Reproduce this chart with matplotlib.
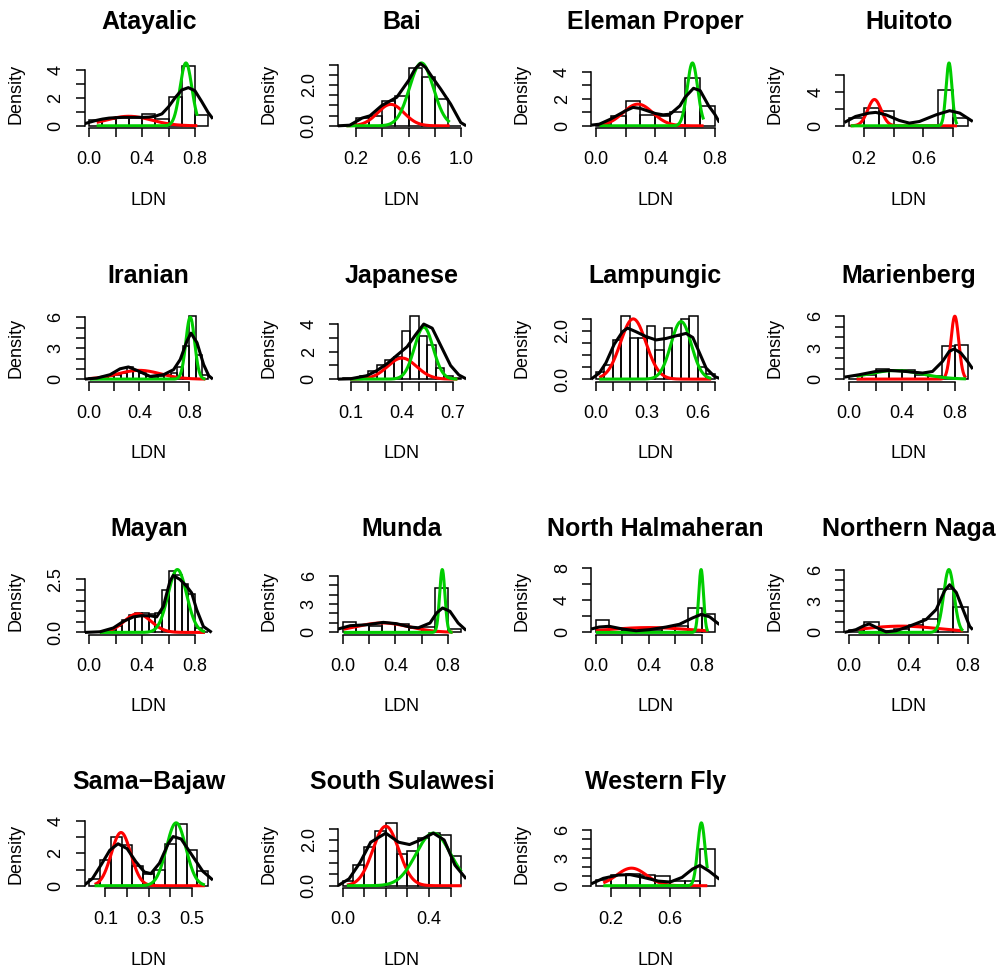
import numpy as np
import matplotlib
matplotlib.use("Agg")
import matplotlib.pyplot as plt
from matplotlib.transforms import Bbox

# ---------------- data ----------------
titles = ["Atayalic", "Bai", "Eleman Proper", "Huitoto",
          "Iranian", "Japanese", "Lampungic", "Marienberg",
          "Mayan", "Munda", "North Halmaheran", "Northern Naga",
          "Sama\u2212Bajaw", "South Sulawesi", "Western Fly"]

# histogram: first break, bin width, bar densities
bin_start = [0.0, 0.1, 0.0, 0.1, 0.0, 0.05, 0.0, 0.0, 0.0, 0.0, 0.0, 0.0, 0.025, 0.0, 0.1]
bin_width = [0.1, 0.1, 0.1, 0.1, 0.05, 0.05, 0.05, 0.1, 0.05, 0.1, 0.1, 0.1, 0.05, 0.05, 0.1]
bar_density = [
    [0.43, 0.5, 0.6, 0.6, 0.87, 0.5, 2.07, 4.29, 0.75],
    [0.0, 0.36, 0.5, 1.24, 1.48, 2.85, 2.39, 1.32, 0.0],
    [0.08, 0.74, 1.85, 0.8, 0.7, 1.0, 3.53, 1.43],
    [0.9, 2.1, 1.78, 0.0, 0.0, 0.0, 4.27, 0.9],
    [0.1, 0.1, 0.2, 0.3, 0.4, 0.6, 1.2, 0.8, 0.6, 0.3, 0.2, 0.3, 0.4, 0.6, 1.2, 3.2, 6.1, 2.3, 0.4],
    [0.05, 0.1, 0.2, 0.6, 1.0, 1.4, 1.6, 3.5, 4.57, 3.1, 2.5, 0.8, 0.2, 0.05],
    [0.3, 0.6, 1.6, 2.6, 1.7, 1.7, 2.2, 1.2, 2.1, 1.8, 2.5, 2.6, 0.5, 0.2],
    [0.25, 0.35, 1.0, 0.9, 0.9, 0.4, 0.3, 3.2, 3.3],
    [0.0, 0.0, 0.0, 0.1, 0.3, 0.6, 0.8, 0.9, 0.9, 0.85, 0.9, 2.0, 2.9, 2.7, 2.3, 1.8, 0.2, 0.0],
    [1.06, 0.75, 0.7, 1.0, 0.9, 0.5, 0.6, 4.7, 0.4],
    [1.6, 0.5, 0.3, 0.2, 0.3, 0.6, 0.8, 3.07, 2.3],
    [0.2, 1.03, 0.1, 0.3, 0.7, 1.3, 4.19, 2.42],
    [0.4, 1.6, 3.0, 2.5, 1.2, 0.7, 1.0, 2.6, 3.8, 2.2, 0.9],
    [0.2, 0.9, 1.7, 2.4, 2.75, 1.4, 1.5, 2.1, 2.3, 2.2, 1.3],
    [0.6, 1.2, 1.3, 1.2, 1.0, 0.5, 0.5, 4.0],
]

# kernel density (black)
dens_x = [
    [-0.036, 0.0, 0.05, 0.1, 0.15, 0.2, 0.25, 0.3, 0.35, 0.4, 0.45, 0.5, 0.55, 0.6, 0.65, 0.7, 0.75, 0.8, 0.85, 0.9, 0.936],
    [0.064, 0.154, 0.248, 0.307, 0.396, 0.511, 0.6, 0.65, 0.689, 0.73, 0.778, 0.842, 0.918, 0.995, 1.036],
    [-0.032, 0.023, 0.1, 0.2, 0.25, 0.3, 0.4, 0.453, 0.5, 0.566, 0.6, 0.657, 0.702, 0.759, 0.8, 0.832],
    [0.068, 0.143, 0.234, 0.279, 0.347, 0.437, 0.505, 0.573, 0.686, 0.776, 0.844, 0.932],
    [-0.038, 0.06, 0.166, 0.246, 0.313, 0.38, 0.487, 0.594, 0.674, 0.727, 0.781, 0.813, 0.861, 0.914, 0.955, 0.988],
    [0.022, 0.094, 0.193, 0.252, 0.311, 0.37, 0.43, 0.479, 0.528, 0.578, 0.627, 0.686, 0.735, 0.778],
    [-0.028, 0.02, 0.059, 0.108, 0.157, 0.187, 0.236, 0.295, 0.354, 0.413, 0.472, 0.531, 0.571, 0.61, 0.649, 0.698, 0.728],
    [-0.036, 0.076, 0.202, 0.303, 0.429, 0.556, 0.631, 0.707, 0.758, 0.795, 0.846, 0.896, 0.936],
    [-0.036, 0.081, 0.182, 0.258, 0.333, 0.396, 0.46, 0.51, 0.561, 0.611, 0.636, 0.687, 0.737, 0.775, 0.813, 0.864, 0.927],
    [-0.036, 0.058, 0.184, 0.309, 0.41, 0.511, 0.574, 0.662, 0.712, 0.757, 0.813, 0.875, 0.936],
    [-0.036, 0.025, 0.101, 0.203, 0.304, 0.405, 0.532, 0.633, 0.734, 0.797, 0.861, 0.936],
    [-0.032, 0.045, 0.101, 0.135, 0.191, 0.248, 0.315, 0.383, 0.45, 0.518, 0.586, 0.642, 0.676, 0.721, 0.766, 0.811, 0.832],
    [0.003, 0.04, 0.08, 0.12, 0.158, 0.2, 0.24, 0.28, 0.31, 0.35, 0.39, 0.413, 0.45, 0.5, 0.55, 0.597],
    [-0.022, 0.03, 0.08, 0.13, 0.2, 0.26, 0.31, 0.36, 0.42, 0.47, 0.52, 0.572],
    [0.068, 0.15, 0.25, 0.33, 0.42, 0.52, 0.6, 0.68, 0.75, 0.8, 0.86, 0.932],
]
dens_y = [
    [0.15, 0.25, 0.38, 0.48, 0.55, 0.58, 0.6, 0.6, 0.6, 0.6, 0.62, 0.68, 0.85, 1.35, 2.0, 2.55, 2.72, 2.5, 1.75, 0.95, 0.5],
    [0.0, 0.03, 0.38, 0.49, 0.99, 1.4, 2.22, 2.8, 3.05, 2.85, 2.39, 1.81, 1.07, 0.16, 0.0],
    [0.05, 0.12, 0.5, 1.11, 1.36, 1.28, 0.91, 0.81, 0.86, 1.48, 2.1, 2.77, 2.6, 1.48, 0.86, 0.25],
    [0.4, 1.1, 1.5, 1.58, 1.3, 0.63, 0.32, 0.51, 1.3, 1.78, 1.5, 0.51],
    [0.0, 0.1, 0.43, 1.0, 1.18, 0.85, 0.26, 0.43, 0.92, 1.9, 3.7, 4.46, 3.54, 1.41, 0.33, 0.0],
    [0.0, 0.02, 0.25, 0.62, 1.11, 1.73, 2.35, 3.21, 4.0, 3.7, 2.47, 0.99, 0.3, 0.02],
    [0.0, 0.25, 0.67, 1.44, 1.96, 2.11, 1.96, 1.76, 1.62, 1.68, 1.79, 1.89, 1.72, 1.09, 0.46, 0.11, 0.03],
    [0.19, 0.42, 0.73, 0.83, 0.73, 0.58, 0.73, 1.69, 2.65, 2.88, 2.49, 1.69, 0.96],
    [0.0, 0.03, 0.21, 0.52, 0.73, 0.79, 0.79, 0.73, 1.23, 2.42, 2.69, 2.5, 2.18, 1.87, 1.08, 0.28, 0.0],
    [0.35, 0.71, 0.81, 1.06, 0.92, 0.57, 0.49, 0.99, 2.05, 2.58, 2.23, 0.99, 0.21],
    [0.42, 0.67, 0.76, 0.42, 0.21, 0.34, 0.67, 1.01, 1.81, 2.23, 1.94, 0.97],
    [0.0, 0.26, 0.65, 0.81, 0.42, 0.06, 0.16, 0.48, 0.84, 1.23, 2.19, 3.97, 4.55, 3.81, 2.19, 0.58, 0.26],
    [0.05, 0.45, 1.3, 2.2, 2.6, 2.3, 1.5, 0.85, 0.75, 1.4, 2.6, 3.05, 2.9, 1.9, 0.9, 0.35],
    [0.0, 0.3, 1.0, 1.9, 2.3, 1.9, 1.8, 2.0, 2.3, 2.0, 0.9, 0.3],
    [0.2, 0.8, 1.15, 1.2, 0.9, 0.5, 0.4, 0.9, 1.8, 2.2, 1.6, 0.7],
]

# fitted normal components: mean, sd, peak height
red_mean = [0.3, 0.465, 0.283, 0.27, 0.4, 0.4, 0.22, 0.8, 0.366, 0.3, 0.4, 0.35, 0.172, 0.2, 0.34]
red_sd = [0.17, 0.1, 0.1, 0.045, 0.17, 0.085, 0.075, 0.03, 0.1, 0.2, 0.3, 0.25, 0.045, 0.06, 0.1]
red_peak = [0.68, 1.05, 1.6, 3.1, 0.85, 1.53, 2.49, 6.0, 0.88, 1.0, 0.6, 0.6, 3.3, 2.6, 1.9]
green_mean = [0.732, 0.697, 0.65, 0.772, 0.807, 0.528, 0.502, 0.35, 0.667, 0.755, 0.797, 0.671, 0.427, 0.42, 0.81]
green_sd = [0.045, 0.09, 0.035, 0.02, 0.035, 0.055, 0.06, 0.2, 0.07, 0.02, 0.018, 0.035, 0.045, 0.08, 0.025]
green_peak = [4.48, 3.08, 4.64, 7.4, 6.0, 3.78, 2.38, 0.82, 2.97, 6.64, 7.8, 6.0, 3.9, 2.3, 6.8]
# data range over which the components are drawn
comp_lo = [0.056, 0.129, 0.023, 0.11, 0.005, 0.094, 0.02, 0.056, 0.08, 0.008, 0.0, 0.063, 0.05, 0.02, 0.15]
comp_hi = [0.818, 0.911, 0.725, 0.826, 0.928, 0.726, 0.679, 0.884, 0.876, 0.833, 0.848, 0.766, 0.56, 0.55, 0.85]

# axis ticks and the labels R actually printed
x_ticks = [
    [0.0, 0.2, 0.4, 0.6, 0.8], [0.2, 0.4, 0.6, 0.8, 1.0], [0.0, 0.2, 0.4, 0.6, 0.8], [0.2, 0.4, 0.6, 0.8],
    [0.0, 0.2, 0.4, 0.6, 0.8], [0.1, 0.2, 0.3, 0.4, 0.5, 0.6, 0.7], [0.0, 0.1, 0.2, 0.3, 0.4, 0.5, 0.6, 0.7], [0.0, 0.2, 0.4, 0.6, 0.8],
    [0.0, 0.2, 0.4, 0.6, 0.8], [0.0, 0.2, 0.4, 0.6, 0.8], [0.0, 0.2, 0.4, 0.6, 0.8], [0.0, 0.2, 0.4, 0.6, 0.8],
    [0.1, 0.2, 0.3, 0.4, 0.5], [0.0, 0.1, 0.2, 0.3, 0.4, 0.5], [0.2, 0.4, 0.6, 0.8],
]
x_labels = [
    ["0.0", "", "0.4", "", "0.8"], ["0.2", "", "0.6", "", "1.0"], ["0.0", "", "0.4", "", "0.8"], ["0.2", "", "0.6", ""],
    ["0.0", "", "0.4", "", "0.8"], ["0.1", "", "", "0.4", "", "", "0.7"], ["0.0", "", "", "0.3", "", "", "0.6", ""], ["0.0", "", "0.4", "", "0.8"],
    ["0.0", "", "0.4", "", "0.8"], ["0.0", "", "0.4", "", "0.8"], ["0.0", "", "0.4", "", "0.8"], ["0.0", "", "0.4", "", "0.8"],
    ["0.1", "", "0.3", "", "0.5"], ["0.0", "", "", "", "0.4", ""], ["0.2", "", "0.6", ""],
]
y_ticks = [
    [0, 1, 2, 3, 4], [0, 0.5, 1, 1.5, 2, 2.5, 3], [0, 1, 2, 3, 4], [0, 2, 4, 6],
    [0, 1, 2, 3, 4, 5, 6], [0, 1, 2, 3, 4], [0, 0.5, 1, 1.5, 2, 2.5], [0, 1, 2, 3, 4, 5, 6],
    [0, 0.5, 1, 1.5, 2, 2.5], [0, 1, 2, 3, 4, 5, 6], [0, 2, 4, 6, 8], [0, 1, 2, 3, 4, 5, 6],
    [0, 1, 2, 3, 4], [0, 0.5, 1, 1.5, 2, 2.5], [0, 1, 2, 3, 4, 5, 6],
]
y_labels = [
    ["0", "", "2", "", "4"], ["0.0", "", "", "", "2.0", "", ""], ["0", "", "2", "", "4"], ["0", "", "4", ""],
    ["0", "", "", "3", "", "", "6"], ["0", "", "2", "", "4"], ["0.0", "", "", "", "2.0", ""], ["0", "", "", "3", "", "", "6"],
    ["0.0", "", "", "", "", "2.5"], ["0", "", "", "3", "", "", "6"], ["0", "", "4", "", "8"], ["0", "", "", "3", "", "", "6"],
    ["0", "", "2", "", "4"], ["0.0", "", "", "", "2.0", ""], ["0", "", "", "3", "", "", "6"],
]

# ---------------- layout (R par(mfrow=c(4,4)) look) ----------------
W, H = 1004, 969
fig = plt.figure(figsize=(W / 100, H / 100), dpi=100)
plt.rcParams['font.family'] = ['Liberation Sans', 'DejaVu Sans']

PITCH = 253.3
FX0, FY0 = 1.9, -22.2
LINE = 20.15
RW = PITCH - 6.2 * LINE
RH = PITCH - 9.2 * LINE
RED = "#FF0000"
GREEN = "#00CD00"
LW = 2.2
TICK_FS = 13
TITLE_FS = 18


def normal_curve(lo, hi, mu, sd, peak):
    xs = np.linspace(lo, hi, 400)
    return xs, peak * np.exp(-0.5 * ((xs - mu) / sd) ** 2)


for i, title in enumerate(titles):
    r, c = divmod(i, 4)
    fl = FX0 + c * PITCH
    ft = FY0 + r * PITCH
    left = fl + 4.1 * LINE
    top = ft + 4.1 * LINE
    ax = fig.add_axes([left / W, 1 - (top + RH) / H, RW / W, RH / H])
    ax.patch.set_visible(False)

    heights = bar_density[i]
    n = len(heights)
    b0 = bin_start[i]
    bw = bin_width[i]
    edges = [b0 + k * bw for k in range(n)]
    b1 = b0 + n * bw
    ax.bar(edges, heights, width=bw, align='edge', fill=False,
           edgecolor='black', linewidth=1.1)

    rx, ry = normal_curve(comp_lo[i], comp_hi[i], red_mean[i], red_sd[i], red_peak[i])
    gx, gy = normal_curve(comp_lo[i], comp_hi[i], green_mean[i], green_sd[i], green_peak[i])
    ax.plot(rx, ry, color=RED, lw=LW, solid_capstyle='butt')
    ax.plot(gx, gy, color=GREEN, lw=LW, solid_capstyle='butt')
    ax.plot(dens_x[i], dens_y[i], color='black', lw=LW, solid_capstyle='butt')

    ymax = max(max(heights), max(dens_y[i]), red_peak[i], green_peak[i])
    span = b1 - b0
    ax.set_xlim(b0 - 0.04 * span, b1 + 0.04 * span)
    ax.set_ylim(-0.04 * ymax, 1.04 * ymax)

    for s in ['top', 'right']:
        ax.spines[s].set_visible(False)
    ax.spines['left'].set_bounds(y_ticks[i][0], y_ticks[i][-1])
    ax.spines['bottom'].set_bounds(x_ticks[i][0], x_ticks[i][-1])
    for s in ['left', 'bottom']:
        ax.spines[s].set_linewidth(1.1)
    ax.set_xticks(x_ticks[i])
    ax.set_xticklabels(x_labels[i], fontsize=TICK_FS)
    ax.set_yticks(y_ticks[i])
    ax.set_yticklabels(y_labels[i], fontsize=TICK_FS, rotation=90, va='center')
    ax.tick_params(axis='x', direction='out', length=6.5, width=1.1, pad=10)
    ax.tick_params(axis='y', direction='out', length=6.5, width=1.1, pad=8)

    cx = left + RW / 2
    t = fig.text(cx / W, 1 - (top - 31) / H, title, ha='center', va='baseline',
                 fontsize=TITLE_FS, fontweight='bold')
    t.set_clip_box(Bbox([[fl, H - (ft + PITCH)], [fl + PITCH, H - ft]]))
    t.set_clip_on(True)
    fig.text(cx / W, 1 - (top + RH + 72) / H, "LDN", ha='center', va='center',
             fontsize=TICK_FS)
    fig.text((left - 69) / W, 1 - (top + RH / 2) / H, "Density", ha='center',
             va='center', rotation=90, fontsize=TICK_FS)

fig.savefig("out.png", dpi=100)
